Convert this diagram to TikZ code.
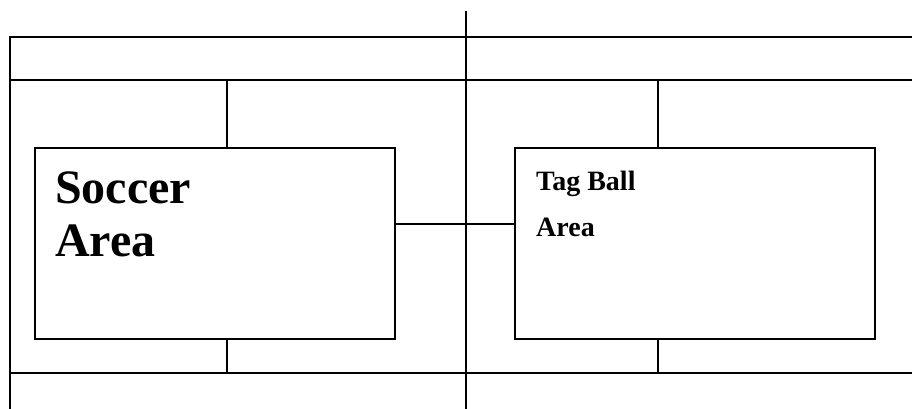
\documentclass[tikz,border=0pt]{standalone}
\usepackage{fontspec}
\setmainfont{Liberation Serif}
\begin{document}
\begin{tikzpicture}[x=1pt,y=-1pt,
  rule/.style={line width=1.6pt, line cap=rect},
  area/.style={draw, line width=1.6pt, rectangle, inner sep=0pt, anchor=north west},
  biglabel/.style={anchor=base west, inner sep=0pt, font=\bfseries\fontsize{48}{53}\selectfont},
  smalllabel/.style={anchor=base west, inner sep=0pt, font=\bfseries\fontsize{28}{33}\selectfont}]
  \useasboundingbox (0,0) rectangle (912,409);
  \begin{scope}
  \clip (0,0) rectangle (912,409);
  % frame corners and rails
  \coordinate (midTop) at (466,12);
  \coordinate (midBot) at (466,412);
  \coordinate (leftTop) at (10,37);
  \coordinate (leftBot) at (10,412);
  \coordinate (railA) at (915,37);
  \coordinate (railB0) at (10,80);
  \coordinate (railB) at (915,80);
  \coordinate (railC0) at (10,373);
  \coordinate (railC) at (915,373);
  \draw[rule] (midTop) -- (midBot);
  \draw[rule] (leftTop) -- (leftBot);
  \draw[rule] (leftTop) -- (railA);
  \draw[rule] (railB0) -- (railB);
  \draw[rule] (railC0) -- (railC);
  \end{scope}
  % the two play areas
  \node[area, minimum width=360pt, minimum height=191pt] (soccer) at (34,147) {};
  \node[area, minimum width=360pt, minimum height=191pt] (tag) at (514,147) {};
  % labels
  \node[biglabel] (soccerA) at (55,203) {Soccer};
  \node[biglabel] (soccerB) at (55,256) {Area};
  \node[smalllabel] (tagA) at (536,190) {Tag Ball};
  \node[smalllabel] (tagB) at (536,236) {Area};
  % stubs joining the areas to the rails
  \coordinate (sTop) at (227,80);
  \coordinate (sBot) at (227,373);
  \coordinate (tTop) at (658,80);
  \coordinate (tBot) at (658,373);
  \draw[rule] (sTop) -- (sTop |- soccer.north);
  \draw[rule] (sBot) -- (sBot |- soccer.south);
  \draw[rule] (tTop) -- (tTop |- tag.north);
  \draw[rule] (tBot) -- (tBot |- tag.south);
  % link between the two areas
  \coordinate (link) at (0,224);
  \draw[rule] (soccer.east |- link) -- (tag.west |- link);
\end{tikzpicture}
\end{document}
